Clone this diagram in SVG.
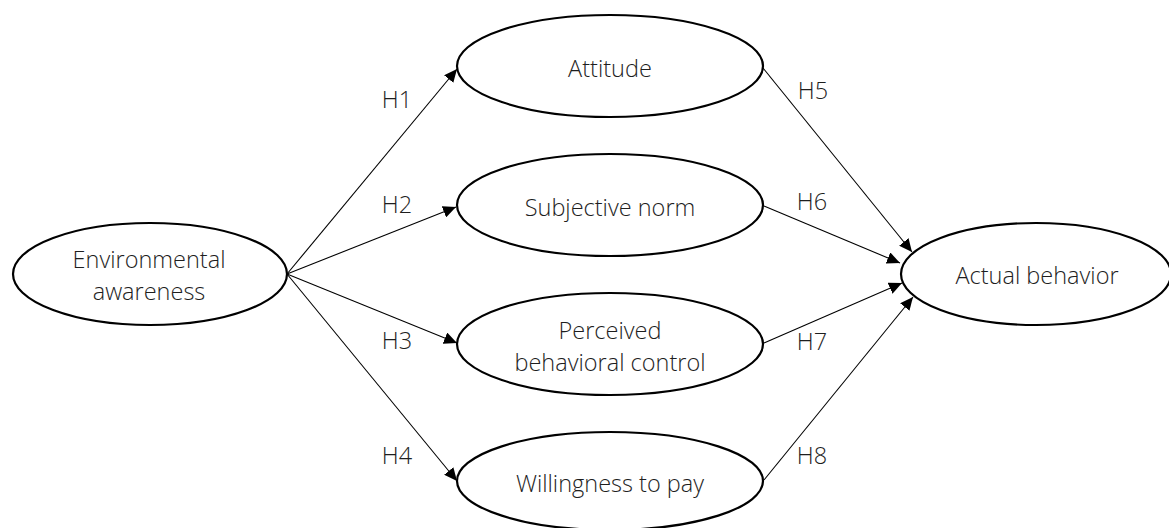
<svg xmlns="http://www.w3.org/2000/svg" width="1169" height="528" viewBox="0 0 1169 528">
  <style>
    .node ellipse { fill: #ffffff; stroke: #000000; stroke-width: 2.2; }
    .lbl { font-family: "Open Sans", "Noto Sans", "Liberation Sans", sans-serif; font-weight: 300; font-size: 23.5px; fill: #1e1e1e; text-anchor: middle; dominant-baseline: central; }
    .edge { stroke: #000000; stroke-width: 1.1; fill: none; marker-end: url(#arrow); }
  </style>
  <defs>
    <marker id="arrow" markerUnits="userSpaceOnUse" markerWidth="14" markerHeight="12" refX="13" refY="6" orient="auto">
      <path d="M0,0 L13,6 L0,12 z" fill="#000000"/>
    </marker>
  </defs>
  <rect width="1169" height="528" fill="#ffffff"/>
  <g id="connectors">
    <line class="edge" x1="287" y1="274" x2="457" y2="69"/>
    <line class="edge" x1="287" y1="274" x2="456" y2="207"/>
    <line class="edge" x1="287" y1="274" x2="457" y2="343"/>
    <line class="edge" x1="287" y1="274" x2="457" y2="481"/>
    <line class="edge" x1="763" y1="68" x2="912" y2="252"/>
    <line class="edge" x1="764" y1="206" x2="900" y2="263"/>
    <line class="edge" x1="764" y1="343" x2="902" y2="283"/>
    <line class="edge" x1="764" y1="480" x2="913" y2="297"/>
    <text class="lbl" x="397" y="99">H1</text>
    <text class="lbl" x="397" y="204">H2</text>
    <text class="lbl" x="397" y="340">H3</text>
    <text class="lbl" x="397" y="455">H4</text>
    <text class="lbl" x="813" y="90">H5</text>
    <text class="lbl" x="812" y="201">H6</text>
    <text class="lbl" x="812" y="341">H7</text>
    <text class="lbl" x="812" y="455">H8</text>
  </g>
  <g id="environmental-awareness" class="node">
    <ellipse cx="150" cy="274" rx="137" ry="51"/>
    <text class="lbl" x="149" y="259">Environmental</text>
    <text class="lbl" x="149" y="291">awareness</text>
  </g>
  <g id="attitude" class="node">
    <ellipse cx="610" cy="66" rx="153" ry="51"/>
    <text class="lbl" x="610" y="68">Attitude</text>
  </g>
  <g id="subjective-norm" class="node">
    <ellipse cx="610" cy="205" rx="153" ry="51"/>
    <text class="lbl" x="610" y="207">Subjective norm</text>
  </g>
  <g id="perceived-behavioral-control" class="node">
    <ellipse cx="610" cy="344" rx="153" ry="51"/>
    <text class="lbl" x="610" y="330">Perceived</text>
    <text class="lbl" x="610" y="362">behavioral control</text>
  </g>
  <g id="willingness-to-pay" class="node">
    <ellipse cx="610" cy="481" rx="153" ry="49"/>
    <text class="lbl" x="610" y="483">Willingness to pay</text>
  </g>
  <g id="actual-behavior" class="node">
    <ellipse cx="1036" cy="274" rx="135" ry="51"/>
    <text class="lbl" x="1037" y="275">Actual behavior</text>
  </g>
</svg>
